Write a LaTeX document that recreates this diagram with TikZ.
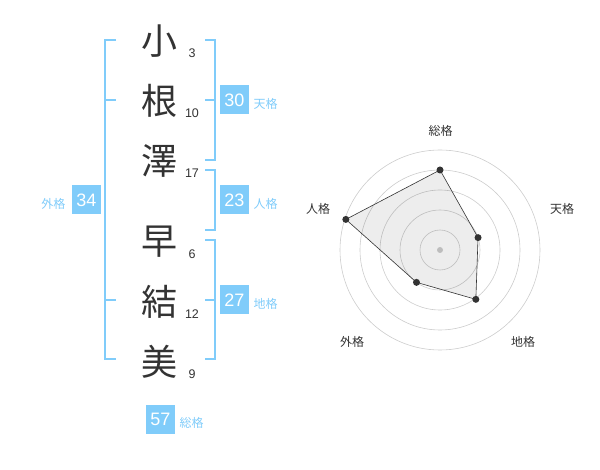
\documentclass[tikz,border=0pt]{standalone}
\usepackage{fontspec}
\setmainfont{Liberation Sans}
\newfontfamily\jpfont{Noto Sans CJK JP}
\usetikzlibrary{positioning,calc}
\definecolor{kakublue}{RGB}{128,204,250}
\definecolor{inkgray}{RGB}{51,51,51}
\definecolor{ringgray}{RGB}{204,204,204}
\tikzset{
	kanji/.style={font=\jpfont\fontsize{36}{36}\selectfont,text=inkgray,inner sep=0pt},
	strokes/.style={font=\fontsize{12.5}{13}\selectfont,text=inkgray,inner sep=0pt},
	kakubox/.style={fill=kakublue,text=white,minimum size=29pt,inner sep=0pt,font=\fontsize{18}{18}\selectfont},
	kakuname/.style={font=\jpfont\fontsize{12}{12}\selectfont,text=kakublue,inner sep=0pt},
	brace/.style={draw=kakublue,line width=2pt},
	ring/.style={draw=ringgray,line width=0.6pt},
	axisname/.style={font=\jpfont\fontsize{12}{12}\selectfont,text=inkgray,inner sep=0pt}
}

\begin{document}
\begin{tikzpicture}[x=1pt,y=1pt,node distance=60pt,on grid]
	\useasboundingbox (0,0) rectangle (600,-470);
	% name
	\node[kanji] (c_1) at (159,-41) {小};
	\node[kanji] (c_2) [below=of c_1] {根};
	\node[kanji] (c_3) [below=of c_2] {澤};
	\node[kanji] (c_4) [below=81pt of c_3] {早};
	\node[kanji] (c_5) [below=of c_4] {結};
	\node[kanji] (c_6) [below=of c_5] {美};
	\foreach \i/\n in {1/3,2/10,3/17,4/6,5/12,6/9}
		\node[strokes] (n_\i) at ($(c_\i)+(33,-12.5)$) {\n};
	% brackets
	\draw[brace] (116,-40) -- (105,-40) -- (105,-359) -- (116,-359)
		(105,-100) -- (116,-100) (105,-300) -- (116,-300);
	\draw[brace] (205,-40) -- (215,-40) -- (215,-160) -- (205,-160)
		(215,-100) -- (205,-100);
	\draw[brace] (205,-170) -- (215,-170) -- (215,-230) -- (205,-230);
	\draw[brace] (205,-240) -- (215,-240) -- (215,-359) -- (205,-359)
		(215,-300) -- (205,-300);
	% kakusu
	\node[kakubox] (b_ten) at (234.5,-100) {30};
	\node[kakubox] (b_jin) at (234.5,-200) {23};
	\node[kakubox] (b_chi) at (234.5,-300) {27};
	\node[kakubox] (b_gai) at (86.5,-200) {34};
	\node[kakubox] (b_sou) at (160.5,-419.5) {57};
	\node[kakuname] (l_ten) [right=31pt of b_ten, yshift=-3.5pt] {天格};
	\node[kakuname] (l_jin) [right=31pt of b_jin, yshift=-3.5pt] {人格};
	\node[kakuname] (l_chi) [right=31pt of b_chi, yshift=-3.5pt] {地格};
	\node[kakuname] (l_gai) [left=33pt of b_gai, yshift=-3.5pt] {外格};
	\node[kakuname] (l_sou) [right=31pt of b_sou, yshift=-3.5pt] {総格};
	% radar
	\coordinate (o) at (440,-250);
	\foreach \r in {20,40,...,100}
		\draw[ring] (o) circle (\r);
	\fill[ringgray] (o) circle (3);
	\foreach \i/\a/\r in {1/90/80,2/18/40,3/-54/61,4/-126/40,5/162/99}
		\coordinate (p_\i) at ($(o)+(\a:\r)$);
	\draw[inkgray,line width=0.6pt,fill=black,fill opacity=0.07]
		(p_1) -- (p_2) -- (p_3) -- (p_4) -- (p_5) -- cycle;
	\foreach \i in {1,...,5}
		\fill[inkgray] (p_\i) circle (3.5);
	\node[axisname] (a_1) at (440.7,-130.7) {総格};
	\node[axisname] (a_2) at (562,-209) {天格};
	\node[axisname] (a_3) at (523,-342) {地格};
	\node[axisname] (a_4) at (352,-342) {外格};
	\node[axisname] (a_5) at (318,-209) {人格};
\end{tikzpicture}
\end{document}
